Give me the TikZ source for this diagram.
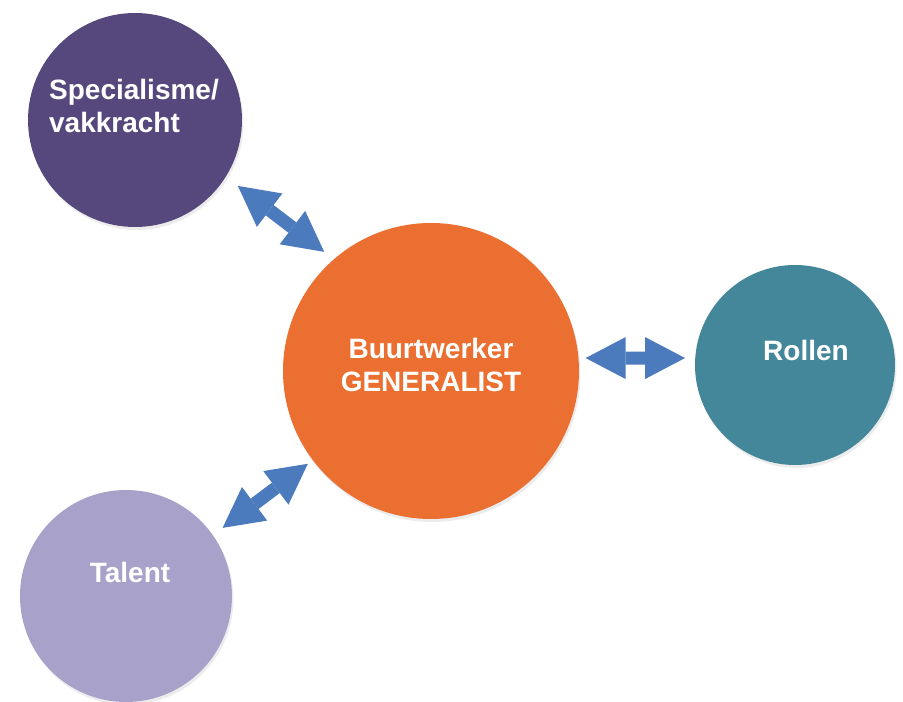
\documentclass[tikz,border=0pt]{standalone}
\usepackage{fontspec}
\setmainfont{Liberation Sans}
\usepackage{tikz}
\usetikzlibrary{shapes,arrows.meta,shadows}
\definecolor{specpurple}{HTML}{56487C}
\definecolor{genorange}{HTML}{EA6F30}
\definecolor{rolteal}{HTML}{44879A}
\definecolor{tallilac}{HTML}{A8A2CB}
\definecolor{arrowblue}{HTML}{4B7BBD}
\tikzstyle{bubble}=[circle,inner sep=0pt,drop shadow={shadow xshift=1.5pt,shadow yshift=-3pt,opacity=0.15}]
\tikzstyle{bubbletext}=[text=white,font=\bfseries\fontsize{28}{33}\selectfont,inner sep=0pt]
\tikzstyle{link}=[draw=arrowblue,line width=13pt,{Triangle[length=40pt,width=42pt,line width=0pt]}-{Triangle[length=40pt,width=42pt,line width=0pt]}]

\begin{document}
\begin{tikzpicture}[x=1pt,y=1pt]
\useasboundingbox (0,0) rectangle (903,702);
\node[bubble, fill=specpurple, minimum size=214pt] (spec) at (135,582) {};
\node[bubble, fill=genorange, minimum size=296pt] (gen) at (431,331) {};
\node[bubble, fill=rolteal, minimum size=200pt] (rol) at (795,337) {};
\node[bubble, fill=tallilac, minimum size=212pt] (tal) at (126,106) {};
\node[bubbletext, align=left] (spectext) at (134,596) {Specialisme/\\vakkracht};
\node[bubbletext, align=center] (gentext) at (431,337) {Buurtwerker\\GENERALIST};
\node[bubbletext] (roltext) at (806,352) {Rollen};
\node[bubbletext] (taltext) at (130,130) {Talent};
\draw[link, shorten <=15pt, shorten >=12pt] (spec.-32) -- (gen.131);
\draw[link, shorten <=7pt, shorten >=10pt] (gen.5) -- (rol.176);
\draw[link, shorten <=6pt, shorten >=12pt] (gen.217) -- (tal.35);
\end{tikzpicture}
\end{document}
